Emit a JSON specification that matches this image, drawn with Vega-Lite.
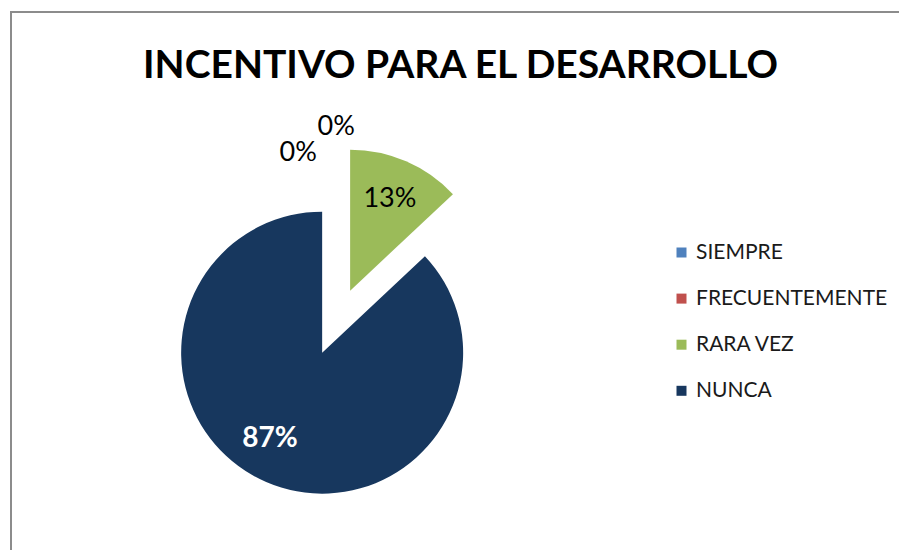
{
  "$schema": "https://vega.github.io/schema/vega-lite/v6.json",
  "width": 889,
  "height": 539,
  "autosize": {"type": "none"},
  "padding": {"left": 11, "top": 12, "right": 0, "bottom": 0},
  "background": "white",
  "config": {"view": {"stroke": "#8c8c8c", "strokeWidth": 2}, "font": "Lato"},
  "title": {"text": "INCENTIVO PARA EL DESARROLLO", "font": "Lato", "fontSize": 39, "fontWeight": "bold", "color": "#000000", "anchor": "middle", "dx": 5, "dy": 40, "offset": -65, "baseline": "alphabetic"},
  "data": {"values": [
    {"category": "SIEMPRE", "pct": 0, "ord": 1},
    {"category": "FRECUENTEMENTE", "pct": 0, "ord": 2},
    {"category": "RARA VEZ", "pct": 0.13, "ord": 3},
    {"category": "NUNCA", "pct": 0.87, "ord": 4}
  ]},
  "encoding": {
    "x": {"datum": 0.35, "type": "quantitative", "scale": {"domain": [0, 1]}, "axis": null},
    "y": {"datum": 0.632, "type": "quantitative", "scale": {"domain": [0, 1], "reverse": true}, "axis": null},
    "theta": {"field": "pct", "type": "quantitative", "stack": true},
    "order": {"field": "ord", "type": "quantitative"}
  },
  "layer": [
    {
      "mark": {"type": "arc", "outerRadius": 141, "strokeWidth": 0},
      "encoding": {
        "color": {"field": "category", "type": "nominal",
          "scale": {"domain": ["SIEMPRE", "FRECUENTEMENTE", "RARA VEZ", "NUNCA"], "range": ["#4F81BD", "#C0504D", "#9BBB59", "#17375E"]},
          "legend": {"title": null, "orient": "none", "legendX": 660, "legendY": 230, "symbolType": "square", "symbolSize": 100, "symbolStrokeWidth": 0, "labelFont": "Lato", "labelFontSize": 21, "labelColor": "#1a1a1a", "labelOffset": 4, "labelLimit": 400, "rowPadding": 24.1}},
        "fillOpacity": {"condition": {"test": "datum.category === 'RARA VEZ'", "value": 0}, "value": 1}
      }
    },
    {
      "mark": {"type": "arc", "outerRadius": 141, "strokeWidth": 0, "xOffset": 28, "yOffset": -62},
      "encoding": {
        "color": {"field": "category", "type": "nominal"},
        "fillOpacity": {"condition": {"test": "datum.category === 'RARA VEZ'", "value": 1}, "value": 0}
      }
    },
    {
      "mark": {"type": "text", "radius": 101, "font": "Lato", "fontSize": 28, "fontWeight": "bold", "fill": "#ffffff", "dx": -12, "dy": -6},
      "encoding": {
        "text": {"field": "pct", "type": "quantitative", "format": ".0%"},
        "opacity": {"condition": {"test": "datum.category === 'NUNCA'", "value": 1}, "value": 0}
      }
    },
    {
      "mark": {"type": "text", "radius": 100, "font": "Lato", "fontSize": 27, "fill": "#000000", "xOffset": 28, "yOffset": -62},
      "encoding": {
        "text": {"field": "pct", "type": "quantitative", "format": ".0%"},
        "opacity": {"condition": {"test": "datum.category === 'RARA VEZ'", "value": 1}, "value": 0}
      }
    },
    {
      "mark": {"type": "text", "radius": 200, "font": "Lato", "fontSize": 27, "fill": "#000000", "dx": -24},
      "encoding": {
        "text": {"field": "pct", "type": "quantitative", "format": ".0%"},
        "opacity": {"condition": {"test": "datum.category === 'SIEMPRE'", "value": 1}, "value": 0}
      }
    },
    {
      "mark": {"type": "text", "radius": 226, "font": "Lato", "fontSize": 27, "fill": "#000000", "dx": 14},
      "encoding": {
        "text": {"field": "pct", "type": "quantitative", "format": ".0%"},
        "opacity": {"condition": {"test": "datum.category === 'FRECUENTEMENTE'", "value": 1}, "value": 0}
      }
    }
  ]
}
